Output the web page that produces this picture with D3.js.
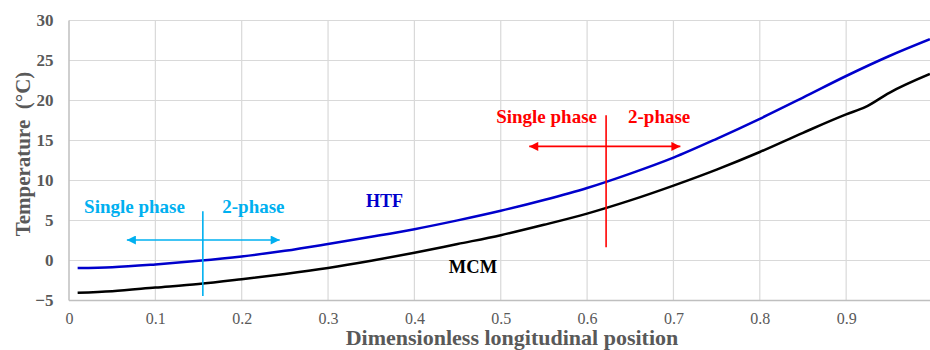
<!DOCTYPE html>
<html>
<head>
<meta charset="utf-8">
<script src="https://cdn.jsdelivr.net/npm/d3@7/dist/d3.min.js"></script>
<style>
  html, body { margin: 0; padding: 0; background: #fff; }
  svg, svg text { font-family: 'Liberation Serif', 'Times New Roman', serif; }
  svg { display: block; }
</style>
</head>
<body>
<svg id="chart" width="930" height="350"></svg>
<script>
// Dimensionless longitudinal position
const positions = [0.01, 0.05, 0.1, 0.15, 0.2, 0.25, 0.3, 0.35, 0.4, 0.45, 0.5,
                   0.55, 0.6, 0.65, 0.7, 0.75, 0.8, 0.85, 0.9, 0.95, 0.997];
// Heat transfer fluid temperature (°C)
const htfTemp = [-1.0, -0.9, -0.55, -0.1, 0.45, 1.15, 2.0, 2.9, 3.85, 4.95, 6.15,
                 7.5, 9.0, 10.8, 12.8, 15.15, 17.65, 20.3, 23.0, 25.5, 27.6];
// MCM temperature (°C); its own positions include the kink near 0.92
const mcmPositions = [0.01, 0.05, 0.1, 0.15, 0.2, 0.25, 0.3, 0.35, 0.4, 0.45, 0.5,
                      0.55, 0.6, 0.65, 0.7, 0.75, 0.8, 0.85, 0.9, 0.922, 0.95, 0.997];
const mcmTemp = [-4.1, -3.9, -3.45, -3.0, -2.4, -1.75, -1.0, -0.1, 0.9, 2.0, 3.1,
                 4.4, 5.8, 7.45, 9.3, 11.3, 13.5, 15.9, 18.2, 19.1, 20.9, 23.25];

const xTicks = [0, 0.1, 0.2, 0.3, 0.4, 0.5, 0.6, 0.7, 0.8, 0.9];
const xTickLabels = ["0", "0.1", "0.2", "0.3", "0.4", "0.5", "0.6", "0.7", "0.8", "0.9"];
const yTicks = [-5, 0, 5, 10, 15, 20, 25, 30];

// Phase-change markers (data coordinates)
const phaseMarkers = [
  { x: 0.155, yTop: 6.1, yBottom: -4.5, yArrow: 2.5, xLeft: 0.067, xRight: 0.244,
    color: "#00b0f0", labelY: 5.9, leftLabelEnd: 0.1343, rightLabelStart: 0.1775,
    leftLabel: "Single phase", rightLabel: "2-phase" },
  { x: 0.622, yTop: 18.1, yBottom: 1.6, yArrow: 14.2, xLeft: 0.533, xRight: 0.708,
    color: "#ff0000", labelY: 17.1, leftLabelEnd: 0.6115, rightLabelStart: 0.6474,
    leftLabel: "Single phase", rightLabel: "2-phase" }
];

const serif = "'Liberation Serif', 'Times New Roman', serif";
const svg = d3.select("#chart");
const x = d3.scaleLinear().domain([0, 1]).range([69, 932.5]);
const y = d3.scaleLinear().domain([-5, 30]).range([300, 20]);

// Gridlines
const grid = svg.append("g");
grid.selectAll("line.h").data(yTicks.filter(d => d > -5)).join("line")
  .attr("x1", x(0)).attr("x2", 930)
  .attr("y1", d => y(d) + 0.5).attr("y2", d => y(d) + 0.5)
  .attr("stroke", "#d9d9d9").attr("stroke-width", 1.2);
grid.selectAll("line.v").data(xTicks.filter(d => d > 0)).join("line")
  .attr("x1", d => x(d)).attr("x2", d => x(d))
  .attr("y1", y(30)).attr("y2", y(-5))
  .attr("stroke", "#d9d9d9").attr("stroke-width", 1.2);

// Axes
const xAxis = svg.append("g").attr("transform", `translate(0,${y(-5) + 0.5})`)
  .call(d3.axisBottom(x).tickValues(xTicks).tickFormat((d, i) => xTickLabels[i]).tickSize(0).tickPadding(12));
xAxis.attr("font-family", null);
xAxis.select(".domain").attr("stroke", "#bfbfbf").attr("stroke-width", 1.5).attr("d", `M${x(0)},0H930`);
xAxis.selectAll("text").style("font-family", serif).attr("font-size", 16).attr("fill", "#595959");

const yAxis = svg.append("g").attr("transform", `translate(${x(0) - 0.5},0)`)
  .call(d3.axisLeft(y).tickValues(yTicks).tickSize(0).tickPadding(15));
yAxis.attr("font-family", null);
yAxis.select(".domain").attr("stroke", "#bfbfbf").attr("stroke-width", 1.5);
yAxis.selectAll("text").style("font-family", serif).attr("font-size", 17)
  .attr("font-weight", "bold").attr("fill", "#595959");

// Axis titles
svg.append("text").attr("x", 512).attr("y", 345).attr("text-anchor", "middle")
  .attr("font-size", 22).attr("font-weight", "bold").attr("fill", "#595959")
  .text("Dimensionless longitudinal position");
svg.append("text").attr("transform", "translate(30,154) rotate(-90)").attr("text-anchor", "middle")
  .attr("font-size", 21).attr("font-weight", "bold").attr("fill", "#595959")
  .attr("xml:space", "preserve")
  .text("Temperature  (°C)");

// Temperature curves
const line = d3.line().x(d => x(d[0])).y(d => y(d[1])).curve(d3.curveMonotoneX);
svg.append("path").datum(d3.zip(positions, htfTemp)).attr("d", line)
  .attr("fill", "none").attr("stroke", "#0000cc").attr("stroke-width", 2.5);
svg.append("path").datum(d3.zip(mcmPositions, mcmTemp)).attr("d", line)
  .attr("fill", "none").attr("stroke", "#000").attr("stroke-width", 2.5);

// Curve labels
svg.append("text").attr("x", 384.5).attr("y", 207).attr("text-anchor", "middle")
  .attr("font-size", 18).attr("font-weight", "bold").attr("fill", "#0000cc").text("HTF");
svg.append("text").attr("x", 473).attr("y", 273).attr("text-anchor", "middle")
  .attr("font-size", 18.5).attr("font-weight", "bold").attr("fill", "#000").text("MCM");

// Phase-change markers
const defs = svg.append("defs");
phaseMarkers.forEach((m, i) => {
  const id = "arrow" + i;
  defs.append("marker").attr("id", id).attr("viewBox", "0 0 10 10")
    .attr("refX", 10).attr("refY", 5).attr("markerUnits", "userSpaceOnUse")
    .attr("markerWidth", 11).attr("markerHeight", 9).attr("orient", "auto-start-reverse")
    .append("path").attr("d", "M0,0L10,5L0,10Z").attr("fill", m.color);
  const g = svg.append("g");
  g.append("line").attr("x1", x(m.x)).attr("x2", x(m.x))
    .attr("y1", y(m.yTop)).attr("y2", y(m.yBottom))
    .attr("stroke", m.color).attr("stroke-width", 1.6);
  g.append("line").attr("x1", x(m.xLeft)).attr("x2", x(m.xRight))
    .attr("y1", y(m.yArrow)).attr("y2", y(m.yArrow))
    .attr("stroke", m.color).attr("stroke-width", 1.6)
    .attr("marker-start", `url(#${id})`).attr("marker-end", `url(#${id})`);
  g.append("text").attr("x", x(m.leftLabelEnd)).attr("y", y(m.labelY)).attr("text-anchor", "end")
    .attr("font-size", 19).attr("font-weight", "bold").attr("fill", m.color).text(m.leftLabel);
  g.append("text").attr("x", x(m.rightLabelStart)).attr("y", y(m.labelY)).attr("text-anchor", "start")
    .attr("font-size", 19).attr("font-weight", "bold").attr("fill", m.color).text(m.rightLabel);
});
</script>
</body>
</html>
